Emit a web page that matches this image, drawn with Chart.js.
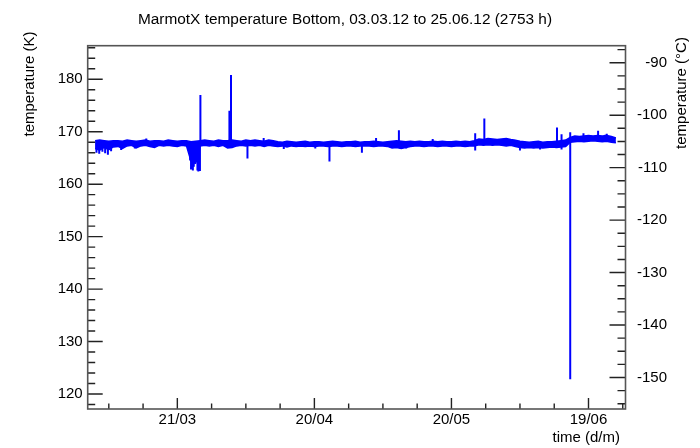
<!DOCTYPE html>
<html>
<head>
<meta charset="utf-8">
<script src="https://cdn.jsdelivr.net/npm/chart.js@4.4.1/dist/chart.umd.min.js"></script>
<style>
  html, body { margin: 0; padding: 0; background: #fff; }
  #wrap { width: 700px; height: 448px; }
</style>
</head>
<body>
<div id="wrap"><canvas id="c" width="700" height="448"></canvas></div>
<script>
// Bottom sensor, daily envelope of the readings (K).
// Days are counted from 01.03.2012 00:00; first day of data is 03.03.
const firstDay = 2;
const dailyMaxK = [
  168.3, 168.4, 168.3, 168.2, 168.3,
  168.3, 168.2, 168.4, 168.3, 168.2, 168.3, 168.4, 168.2, 168.3, 168.3, 168.2, 168.4, 168.3, 168.2, 168.3, 168.3,
  168.1, 168.2,
  168.3, 168.4, 168.3, 168.2, 168.4, 168.3, 168.3, 168.4, 168.3, 168.2, 168.4, 168.3, 168.4, 168.3, 168.2, 168.4, 168.3,
  168.1, 168.0, 168.2, 168.1, 168.0, 168.1, 168.2, 168.0, 168.1, 168.1,
  168.0, 168.1, 168.2, 168.1, 168.0, 168.1, 168.1, 168.2, 168.0, 168.1,
  168.1, 168.2, 168.1, 168.0, 168.1, 168.2, 168.3, 168.2, 168.1, 168.2,
  168.1, 168.2, 168.1, 168.1, 168.2, 168.1, 168.2, 168.1, 168.1, 168.2,
  168.1, 168.2, 168.1, 168.3,
  168.6, 168.5, 168.7, 168.6, 168.5, 168.6, 168.7, 168.5, 168.4, 168.2,
  168.1, 168.0, 168.1, 168.2, 168.0, 168.1, 168.1, 168.2, 168.3, 168.4,
  168.9, 169.2, 169.1, 169.2, 169.3, 169.2, 169.3, 169.2, 169.3, 169.1, 168.8
];
const dailyMinK = [
  166.8, 166.5, 167.0, 166.6, 167.1,
  167.2, 166.8, 167.3, 167.4, 166.9, 167.3, 167.4, 167.2, 167.0, 167.4, 167.3, 167.4, 167.3, 167.2, 167.4, 167.3,
  164.4, 164.0,
  167.3, 167.4, 167.3, 167.4, 167.2, 167.4, 166.9, 167.0, 167.3, 167.4, 167.3, 167.4, 167.3, 167.4, 167.2, 167.4, 167.3,
  167.2, 167.3, 167.1, 167.3, 167.2, 167.3, 167.2, 167.3, 167.2, 167.3,
  167.3, 167.2, 167.3, 167.3, 167.2, 167.3, 167.3, 167.2, 167.3, 167.3,
  167.3, 167.2, 167.3, 167.3, 167.2, 166.9, 167.0, 166.8, 167.0, 167.2,
  167.3, 167.3, 167.2, 167.3, 167.3, 167.2, 167.3, 167.3, 167.2, 167.3,
  167.3, 167.2, 167.3, 167.3,
  167.5, 167.4, 167.5, 167.4, 167.5, 167.4, 167.3, 167.4, 167.2, 167.0,
  166.9, 167.0, 166.9, 167.0, 166.9, 167.0, 167.1, 167.0, 167.1, 167.2,
  168.0, 168.1, 168.2, 168.1, 168.2, 168.3, 168.2, 168.1, 168.2, 168.0, 167.9
];

// Short excursions: day, lowest and highest reading (K).
const spikeDays  = [2.3, 2.9, 3.6, 4.2, 4.8, 5.5, 7.7, 10.7, 13.2,
                    22.8, 23.0, 23.2, 23.4, 23.6, 23.8, 24.0, 24.2, 24.4, 24.6, 24.8, 24.95, 25.05,
                    31.4, 31.75, 35.35, 38.9, 43.3, 50.2, 53.3, 60.4, 63.5, 68.5, 70.1, 75.9,
                    85.2, 87.2, 95.0, 99.4, 103.1, 104.1, 106.0, 108.9, 112.1, 113.7, 114.0];
const spikeLowK  = [166.0, 165.8, 166.2, 165.9, 165.6, 166.3, 166.5, 166.8, 167.8,
                    164.5, 162.8, 163.1, 162.6, 163.3, 163.9, 164.2, 164.6, 162.6, 162.4, 163.0, 162.5, 167.6,
                    167.6, 167.2, 164.9, 167.8, 166.7, 166.8, 164.3, 166.0, 167.7, 167.0, 166.8, 167.7,
                    166.4, 167.8, 166.4, 166.6, 167.5, 166.6, 122.8, 168.6, 168.6, 168.5, 168.6];
const spikeHighK = [168.0, 168.0, 168.0, 168.0, 168.0, 168.0, 167.9, 167.9, 168.7,
                    168.0, 168.0, 168.0, 168.0, 168.0, 168.0, 168.0, 168.0, 168.0, 168.0, 168.0, 168.0, 177.0,
                    174.0, 180.8, 168.0, 168.8, 167.8, 167.8, 167.9, 167.9, 168.8, 170.3, 167.9, 168.6,
                    169.7, 172.5, 168.0, 167.9, 170.8, 169.5, 169.9, 169.7, 170.2, 169.4, 169.6];

// Time axis: labelled days and their d/m text.
const majorDays = [20, 50, 80, 110];
const dayLabels = ['21/03', '20/04', '20/05', '19/06'];
const kelvinTicks = [120, 130, 140, 150, 160, 170, 180];
const celsiusTicks = [-150, -140, -130, -120, -110, -100, -90];

const titleText = 'MarmotX temperature Bottom, 03.03.12 to 25.06.12 (2753 h)';
const KELVIN_OFFSET = 273.15;

// Axis ranges
const dayMin = 0.38, dayMax = 118.1;
const kMin = 117.14, kMax = 186.4;

const FONT = '"Liberation Sans", Arial, Helvetica, sans-serif';
const BLUE = '#0000ff';

const maxPoints = dailyMaxK.map((k, i) => ({ x: firstDay + i, y: k }));
const minPoints = dailyMinK.map((k, i) => ({ x: firstDay + i, y: k }));
const spikePoints = [];
spikeDays.forEach((d, i) => {
  spikePoints.push({ x: d, y: spikeLowK[i] }, { x: d, y: spikeHighK[i] }, { x: d, y: null });
});

// Frame, inward tick marks, right-hand labels and titles.
const frameAndTitles = {
  id: 'frameAndTitles',
  afterDatasetsDraw(chart) {
    const { ctx, chartArea: a, scales } = chart;
    ctx.save();
    ctx.strokeStyle = '#222';
    ctx.lineWidth = 1.4;
    ctx.beginPath();
    // left axis: minor every 2 K, major every 10 K
    for (let v = 118; v <= 186; v += 2) {
      const y = scales.y.getPixelForValue(v);
      const len = v % 10 === 0 ? 15 : 7.5;
      ctx.moveTo(a.left, y); ctx.lineTo(a.left + len, y);
    }
    // right axis: minor every 2.5 °C, major every 10 °C
    for (let v = -155; v <= -87.5; v += 2.5) {
      const y = scales.y2.getPixelForValue(v);
      const len = v % 10 === 0 ? 16 : 8;
      ctx.moveTo(a.right, y); ctx.lineTo(a.right - len, y);
    }
    // time axis: minor every 7.5 days, major every 30 days
    for (let d = 5; d <= 117.5; d += 7.5) {
      const x = scales.x.getPixelForValue(d);
      const len = majorDays.includes(d) ? 11 : 5.5;
      ctx.moveTo(x, a.bottom); ctx.lineTo(x, a.bottom - len);
    }
    ctx.stroke();

    ctx.strokeStyle = '#555';
    ctx.lineWidth = 1.6;
    ctx.strokeRect(a.left, a.top, a.right - a.left, a.bottom - a.top);

    ctx.fillStyle = '#000';
    ctx.font = '15px ' + FONT;
    ctx.textBaseline = 'middle';

    // °C labels, right-aligned
    ctx.textAlign = 'right';
    celsiusTicks.forEach(v => {
      ctx.fillText(String(v), 667, scales.y2.getPixelForValue(v));
    });

    ctx.fillText('time (d/m)', 620, 438);

    ctx.font = '15.4px ' + FONT;
    ctx.textAlign = 'center';
    ctx.fillText(titleText, 345, 20);

    ctx.font = '15px ' + FONT;
    ctx.save();
    ctx.translate(30, 84);
    ctx.rotate(-Math.PI / 2);
    ctx.textAlign = 'center';
    ctx.fillText('temperature (K)', 0, 0);
    ctx.restore();

    ctx.save();
    ctx.translate(682, 93);
    ctx.rotate(-Math.PI / 2);
    ctx.textAlign = 'center';
    ctx.fillText('temperature (\u00B0C)', 0, 0);
    ctx.restore();

    ctx.restore();
  }
};

const tickFont = { family: FONT, size: 15 };

new Chart(document.getElementById('c'), {
  type: 'line',
  data: {
    datasets: [
      {
        label: 'Bottom daily max',
        data: maxPoints,
        borderColor: BLUE,
        borderWidth: 1.5,
        pointRadius: 0,
        tension: 0,
        fill: false
      },
      {
        label: 'Bottom daily min',
        data: minPoints,
        borderColor: BLUE,
        backgroundColor: BLUE,
        borderWidth: 1.5,
        pointRadius: 0,
        tension: 0,
        fill: '-1'
      },
      {
        label: 'Bottom excursions',
        data: spikePoints,
        borderColor: BLUE,
        borderWidth: 2,
        borderCapStyle: 'butt',
        pointRadius: 0,
        tension: 0,
        spanGaps: false,
        fill: false
      }
    ]
  },
  options: {
    responsive: false,
    animation: false,
    devicePixelRatio: 1,
    layout: { padding: { top: 45.7, left: 0, right: 0, bottom: 0 } },
    plugins: {
      legend: { display: false },
      tooltip: { enabled: false },
      title: { display: false }
    },
    scales: {
      x: {
        type: 'linear',
        min: dayMin,
        max: dayMax,
        grid: { display: false, drawTicks: false },
        border: { display: false },
        afterBuildTicks: s => { s.ticks = majorDays.map(v => ({ value: v })); },
        afterFit: s => { s.height = 39; },
        ticks: {
          font: tickFont,
          color: '#000',
          padding: 2,
          maxRotation: 0,
          autoSkip: false,
          callback: v => dayLabels[majorDays.indexOf(v)]
        }
      },
      y: {
        type: 'linear',
        position: 'left',
        min: kMin,
        max: kMax,
        grid: { display: false, drawTicks: false },
        border: { display: false },
        afterBuildTicks: s => { s.ticks = kelvinTicks.map(v => ({ value: v })); },
        afterFit: s => { s.width = 87.7; },
        ticks: { font: tickFont, color: '#000', padding: 5 }
      },
      y2: {
        type: 'linear',
        position: 'right',
        min: kMin - KELVIN_OFFSET,
        max: kMax - KELVIN_OFFSET,
        grid: { display: false, drawTicks: false },
        border: { display: false },
        afterBuildTicks: s => { s.ticks = celsiusTicks.map(v => ({ value: v })); },
        afterFit: s => { s.width = 74.5; },
        ticks: { display: false }
      }
    }
  },
  plugins: [frameAndTitles]
});
</script>
</body>
</html>
